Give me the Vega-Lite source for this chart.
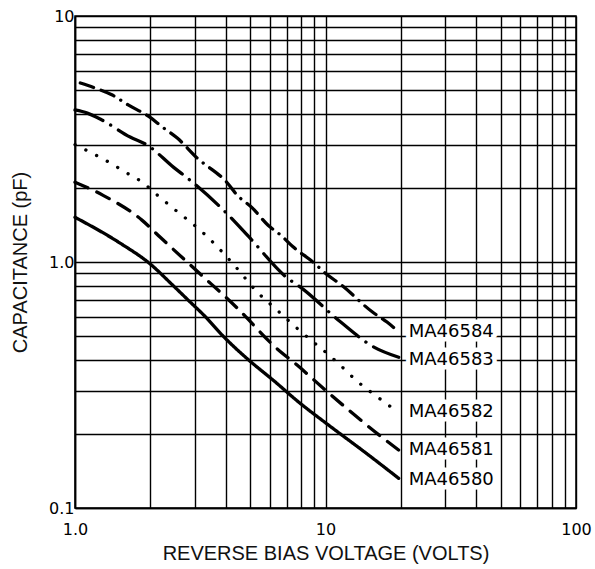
{
  "$schema": "https://vega.github.io/schema/vega-lite/v6.json",
  "width": 501,
  "height": 492,
  "autosize": {"type": "none"},
  "padding": {"left": 75, "top": 16, "right": 19, "bottom": 61},
  "background": "white",
  "config": {"view": {"stroke": "#000", "strokeWidth": 1.5}},
  "datasets": {
    "curves": [
      {"s": "MA46580", "v": 1, "c": 1.52},
      {"s": "MA46580", "v": 1.5, "c": 1.2},
      {"s": "MA46580", "v": 2, "c": 0.98},
      {"s": "MA46580", "v": 2.44, "c": 0.81},
      {"s": "MA46580", "v": 2.83, "c": 0.7},
      {"s": "MA46580", "v": 3.31, "c": 0.6},
      {"s": "MA46580", "v": 3.9, "c": 0.5},
      {"s": "MA46580", "v": 4.93, "c": 0.4},
      {"s": "MA46580", "v": 6.2, "c": 0.33},
      {"s": "MA46580", "v": 7.9, "c": 0.267},
      {"s": "MA46580", "v": 10, "c": 0.222},
      {"s": "MA46580", "v": 15, "c": 0.163},
      {"s": "MA46580", "v": 19.6, "c": 0.132},

      {"s": "MA46581", "v": 1, "c": 2.11},
      {"s": "MA46581", "v": 1.29, "c": 1.87},
      {"s": "MA46581", "v": 1.85, "c": 1.48},
      {"s": "MA46581", "v": 2.19, "c": 1.26},
      {"s": "MA46581", "v": 3.1, "c": 0.91},
      {"s": "MA46581", "v": 4.44, "c": 0.65},
      {"s": "MA46581", "v": 6.3, "c": 0.451},
      {"s": "MA46581", "v": 7.7, "c": 0.381},
      {"s": "MA46581", "v": 10.2, "c": 0.296},
      {"s": "MA46581", "v": 16.9, "c": 0.193},
      {"s": "MA46581", "v": 19.6, "c": 0.172},

      {"s": "MA46582", "v": 1, "c": 3.0},
      {"s": "MA46582", "v": 1.17, "c": 2.77},
      {"s": "MA46582", "v": 1.38, "c": 2.53},
      {"s": "MA46582", "v": 1.61, "c": 2.3},
      {"s": "MA46582", "v": 1.87, "c": 2.1},
      {"s": "MA46582", "v": 2.13, "c": 1.87},
      {"s": "MA46582", "v": 2.51, "c": 1.63},
      {"s": "MA46582", "v": 3.31, "c": 1.29},
      {"s": "MA46582", "v": 4.25, "c": 0.99},
      {"s": "MA46582", "v": 5.34, "c": 0.755},
      {"s": "MA46582", "v": 6.4, "c": 0.638},
      {"s": "MA46582", "v": 7.6, "c": 0.544},
      {"s": "MA46582", "v": 11.2, "c": 0.389},
      {"s": "MA46582", "v": 13.5, "c": 0.325},
      {"s": "MA46582", "v": 16.1, "c": 0.283},
      {"s": "MA46582", "v": 19.4, "c": 0.246},

      {"s": "MA46583", "v": 1, "c": 4.15},
      {"s": "MA46583", "v": 1.12, "c": 4.03},
      {"s": "MA46583", "v": 1.28, "c": 3.78},
      {"s": "MA46583", "v": 1.66, "c": 3.22},
      {"s": "MA46583", "v": 1.94, "c": 2.99},
      {"s": "MA46583", "v": 2.47, "c": 2.43},
      {"s": "MA46583", "v": 2.88, "c": 2.15},
      {"s": "MA46583", "v": 4.05, "c": 1.57},
      {"s": "MA46583", "v": 4.93, "c": 1.27},
      {"s": "MA46583", "v": 7.05, "c": 0.86},
      {"s": "MA46583", "v": 7.94, "c": 0.79},
      {"s": "MA46583", "v": 11.5, "c": 0.57},
      {"s": "MA46583", "v": 15.6, "c": 0.451},
      {"s": "MA46583", "v": 19.6, "c": 0.41},

      {"s": "MA46584", "v": 1.05, "c": 5.34},
      {"s": "MA46584", "v": 1.2, "c": 5.1},
      {"s": "MA46584", "v": 1.41, "c": 4.77},
      {"s": "MA46584", "v": 1.63, "c": 4.35},
      {"s": "MA46584", "v": 1.99, "c": 3.88},
      {"s": "MA46584", "v": 2.23, "c": 3.54},
      {"s": "MA46584", "v": 2.56, "c": 3.19},
      {"s": "MA46584", "v": 3.07, "c": 2.65},
      {"s": "MA46584", "v": 4.05, "c": 2.1},
      {"s": "MA46584", "v": 4.44, "c": 1.87},
      {"s": "MA46584", "v": 5.1, "c": 1.66},
      {"s": "MA46584", "v": 5.9, "c": 1.41},
      {"s": "MA46584", "v": 6.6, "c": 1.29},
      {"s": "MA46584", "v": 7.44, "c": 1.15},
      {"s": "MA46584", "v": 8.9, "c": 1.0},
      {"s": "MA46584", "v": 10.2, "c": 0.885},
      {"s": "MA46584", "v": 11.5, "c": 0.81},
      {"s": "MA46584", "v": 15.4, "c": 0.626},
      {"s": "MA46584", "v": 17.6, "c": 0.57},
      {"s": "MA46584", "v": 19.6, "c": 0.52}
    ],
    "labels": [
      {"s": "MA46584", "v": 19.6, "c": 0.52},
      {"s": "MA46583", "v": 19.6, "c": 0.4},
      {"s": "MA46582", "v": 19.6, "c": 0.246},
      {"s": "MA46581", "v": 19.6, "c": 0.172},
      {"s": "MA46580", "v": 19.6, "c": 0.13}
    ]
  },
  "layer": [
    {
      "data": {"name": "curves"},
      "mark": {"type": "line", "strokeWidth": 3.3, "strokeCap": "round", "color": "#000", "interpolate": "monotone"},
      "encoding": {
        "x": {
          "field": "v", "type": "quantitative",
          "scale": {"type": "log", "domain": [1, 100], "nice": false},
          "axis": {
            "values": [1, 2, 3, 4, 5, 6, 7, 8, 9, 10, 20, 30, 40, 50, 60, 70, 80, 90, 100],
            "labelExpr": "datum.value == 1 ? '1.0' : datum.value == 10 ? '10' : datum.value == 100 ? '100' : ''",
            "grid": true, "gridColor": "#000", "gridWidth": 1.4, "gridOpacity": 1,
            "ticks": false, "domainColor": "#000", "domainWidth": 1.6,
            "labelFont": "DejaVu Sans", "labelFontSize": 16, "labelColor": "#000",
            "labelPadding": 13, "labelOverlap": false, "labelFlush": false,
            "title": "REVERSE BIAS VOLTAGE (VOLTS)",
            "titleFont": "Liberation Sans", "titleFontSize": 20, "titleFontWeight": "normal",
            "titleColor": "#111", "titlePadding": 6
          }
        },
        "y": {
          "field": "c", "type": "quantitative",
          "scale": {"type": "log", "domain": [0.1, 10], "nice": false},
          "axis": {
            "values": [0.1, 0.2, 0.3, 0.4, 0.5, 0.6, 0.7, 0.8, 0.9, 1, 2, 3, 4, 5, 6, 7, 8, 9, 10],
            "labelExpr": "datum.value == 0.1 ? '0.1' : datum.value == 1 ? '1.0' : datum.value == 10 ? '10' : ''",
            "grid": true, "gridColor": "#000", "gridWidth": 1.4, "gridOpacity": 1,
            "ticks": false, "domainColor": "#000", "domainWidth": 1.6,
            "labelFont": "DejaVu Sans", "labelFontSize": 16, "labelColor": "#000",
            "labelPadding": 1, "labelOverlap": false, "labelFlush": false,
            "title": "CAPACITANCE (pF)",
            "titleFont": "Liberation Sans", "titleFontSize": 20, "titleFontWeight": "normal",
            "titleColor": "#111", "titlePadding": 18
          }
        },
        "strokeDash": {
          "field": "s", "type": "nominal",
          "scale": {
            "domain": ["MA46580", "MA46581", "MA46582", "MA46583", "MA46584"],
            "range": [[1, 0], [14, 10], [0.1, 12], [30, 9, 0.1, 9], [14, 8, 14, 8, 0.1, 8]]
          },
          "legend": null
        }
      }
    },
    {
      "data": {"name": "labels"},
      "mark": {"type": "text", "align": "left", "baseline": "middle", "dx": 10, "font": "DejaVu Sans", "fontSize": 18, "fill": "white", "stroke": "white", "strokeWidth": 9, "strokeJoin": "round"},
      "encoding": {
        "x": {"field": "v", "type": "quantitative"},
        "y": {"field": "c", "type": "quantitative"},
        "text": {"field": "s"}
      }
    },
    {
      "data": {"name": "labels"},
      "mark": {"type": "text", "align": "left", "baseline": "middle", "dx": 10, "font": "DejaVu Sans", "fontSize": 18, "fill": "#000"},
      "encoding": {
        "x": {"field": "v", "type": "quantitative"},
        "y": {"field": "c", "type": "quantitative"},
        "text": {"field": "s"}
      }
    }
  ]
}
